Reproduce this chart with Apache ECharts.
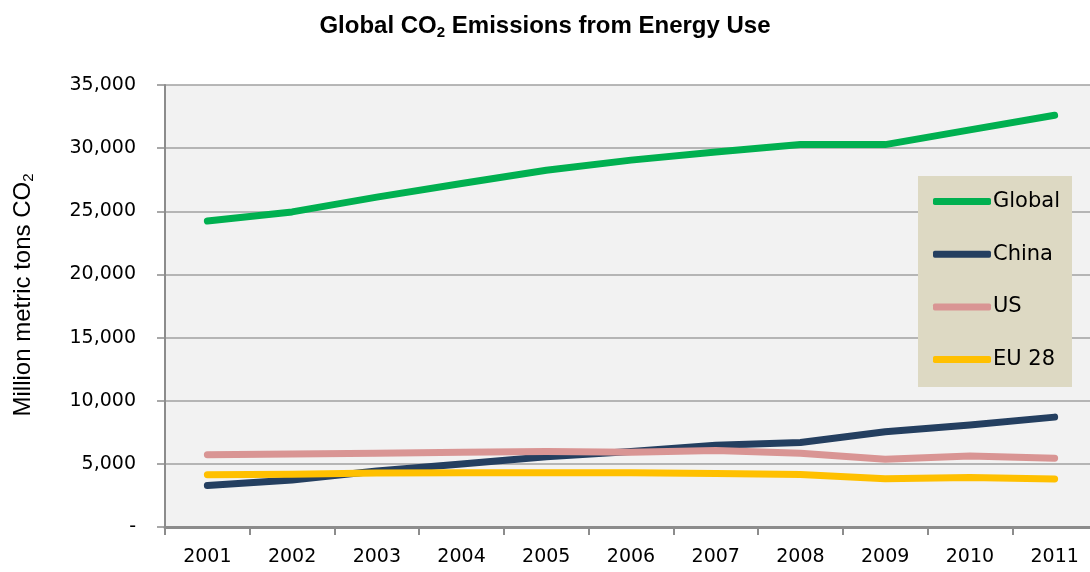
<!DOCTYPE html>
<html>
<head>
<meta charset="utf-8">
<style>
  html, body { margin: 0; padding: 0; background: #ffffff; }
  #chart { width: 1090px; height: 572px; }
</style>
<script src="https://cdn.jsdelivr.net/npm/echarts@6/dist/echarts.min.js"></script>
</head>
<body>
<div id="chart"></div>
<script>
// Energy-related CO2 emissions, million metric tons
const years = ['2001', '2002', '2003', '2004', '2005', '2006', '2007', '2008', '2009', '2010', '2011'];
const globalEmissions = [24230, 24950, 26120, 27200, 28250, 29050, 29700, 30280, 30280, 31450, 32600];
const chinaEmissions  = [3280, 3720, 4440, 4990, 5570, 5980, 6480, 6690, 7550, 8080, 8700];
const usEmissions     = [5730, 5780, 5840, 5920, 5970, 5920, 6050, 5840, 5360, 5630, 5450];
const eu28Emissions   = [4140, 4180, 4280, 4300, 4290, 4290, 4230, 4150, 3830, 3910, 3800];
const seriesNames = ['Global', 'China', 'US', 'EU 28'];
const seriesColors = ['#00B050', '#243F60', '#D99594', '#FFC000'];

const SANS = 'Liberation Sans, Arial, sans-serif';
const WIDE = 'DejaVu Sans, Verdana, sans-serif';
const chart = echarts.init(document.getElementById('chart'));

function lineSeries(name, data, color) {
  return {
    name: name,
    type: 'line',
    data: data,
    showSymbol: false,
    symbol: 'none',
    smooth: false,
    color: color,
    lineStyle: { width: 7, color: color, cap: 'round', join: 'round' },
    emphasis: { disabled: true }
  };
}

chart.setOption({
  animation: false,
  backgroundColor: '#ffffff',
  title: {
    text: '{a|Global CO}{s|2}{a| Emissions from Energy Use}',
    left: 'center',
    top: 8,
    textStyle: {
      rich: {
        a: { fontFamily: SANS, fontWeight: 'bold', fontSize: 24, color: '#000000' },
        s: { fontFamily: SANS, fontWeight: 'bold', fontSize: 15, color: '#000000', padding: [12, 0, 0, 0] }
      }
    }
  },
  legend: {
    data: seriesNames,
    orient: 'vertical',
    left: 918,
    top: 176,
    padding: [15, 12, 17, 15],
    itemGap: 31.7,
    itemWidth: 58,
    itemHeight: 7,
    icon: 'roundRect',
    backgroundColor: '#DDD9C3',
    selectedMode: false,
    textStyle: { fontFamily: WIDE, fontSize: 21, lineHeight: 21, color: '#000000', padding: [0, 0, 0, -3] }
  },
  grid: {
    left: 165,
    top: 85,
    width: 932,
    height: 442,
    containLabel: false,
    outerBoundsMode: 'none',
    show: true,
    backgroundColor: '#F2F2F2',
    borderWidth: 0
  },
  xAxis: {
    type: 'category',
    data: years,
    boundaryGap: true,
    axisLine: { show: true, lineStyle: { color: '#8C8C8C', width: 3 } },
    axisTick: { show: true, length: 8, alignWithLabel: false, lineStyle: { color: '#8C8C8C', width: 2 } },
    axisLabel: { fontFamily: WIDE, fontSize: 19, color: '#000000', margin: 21 },
    splitLine: { show: false }
  },
  yAxis: {
    type: 'value',
    min: 0,
    max: 35000,
    interval: 5000,
    name: '{a|Million metric tons CO}{s|2}',
    nameLocation: 'middle',
    nameGap: 129,
    nameRotate: 90,
    nameTextStyle: {
      padding: [0, 0, 0, 22],
      rich: {
        a: { fontFamily: SANS, fontSize: 24, color: '#000000' },
        s: { fontFamily: SANS, fontSize: 15, color: '#000000', padding: [11, 0, 0, 0] }
      }
    },
    axisLine: { show: true, lineStyle: { color: '#8C8C8C', width: 2 } },
    axisTick: { show: true, length: 8, lineStyle: { color: '#8C8C8C', width: 1.5 } },
    axisLabel: {
      fontFamily: WIDE, fontSize: 19, color: '#000000', margin: 29,
      formatter: function (v) { return v === 0 ? '-' : v.toLocaleString('en-US'); }
    },
    splitLine: { show: true, lineStyle: { color: '#A0A0A0', width: 1.5 } }
  },
  series: [
    lineSeries(seriesNames[0], globalEmissions, seriesColors[0]),
    lineSeries(seriesNames[1], chinaEmissions, seriesColors[1]),
    lineSeries(seriesNames[2], usEmissions, seriesColors[2]),
    lineSeries(seriesNames[3], eu28Emissions, seriesColors[3])
  ]
});
</script>
</body>
</html>
